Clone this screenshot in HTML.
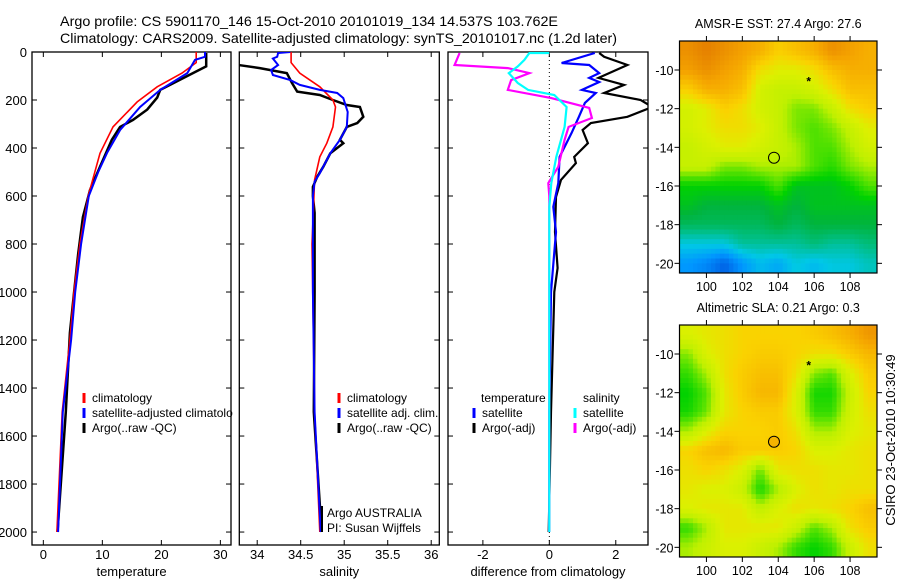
<!DOCTYPE html>
<html><head><meta charset="utf-8"><style>
html,body{margin:0;padding:0;background:#fff;width:900px;height:580px;overflow:hidden}
svg{display:block;font-family:"Liberation Sans",sans-serif}
</style></head><body>
<svg id="chart" width="900" height="580" viewBox="0 0 900 580" xmlns="http://www.w3.org/2000/svg">
<text x="60" y="26" font-size="14" textLength="498" lengthAdjust="spacingAndGlyphs">Argo profile: CS 5901170_146 15-Oct-2010 20101019_134 14.537S 103.762E</text>
<text x="60" y="43" font-size="14" textLength="557" lengthAdjust="spacingAndGlyphs">Climatology: CARS2009. Satellite-adjusted climatology: synTS_20101017.nc (1.2d later)</text>
<text transform="translate(895,440) rotate(-90)" text-anchor="middle" font-size="13">CSIRO 23-Oct-2010 10:30:49</text>
</svg>
<script>
// ---------- temperature panel data ----------
const tempClimDepth=[0,44,88,145,208,312,422,600,800,1000,1200,1500,2000];
const tempClim=[25.9,25.9,23.5,19.3,15.9,11.8,9.6,7.6,6.2,5.2,4.5,3.2,2.3];
const tempSatDepth=[0,20,33,88,158,229,325,420,500,600,800,1000,1200,1500,2000];
const tempSat=[27.4,27.4,25.7,24.4,19.8,16.4,13.0,10.8,9.3,7.7,6.4,5.4,4.7,3.3,2.5];
const tempArgoDepth=[4,60,100,158,190,240,283,312,366,478,575,688,840,1004,1170,1500,2000];
const tempArgo=[27.6,27.6,24.4,19.8,19.3,17.6,15.2,13.0,11.6,9.6,7.9,6.7,5.9,5.2,4.5,3.8,2.4];
const tempTicks=[0,10,20,30];
// ---------- salinity panel data ----------
const salClimDepth=[0,44,88,145,200,229,312,380,437,533,800,1500,2000];
const salClim=[34.39,34.39,34.49,34.72,34.87,34.90,34.87,34.80,34.72,34.66,34.63,34.66,34.72];
const salSatDepth=[0,4,20,27,54,75,96,117,137,158,171,192,250,312,366,422,505,540,600,1000,1500,2000];
const salSat=[34.38,34.24,34.23,34.18,34.24,34.16,34.18,34.38,34.49,34.72,34.92,34.99,35.04,35.03,34.95,34.84,34.72,34.66,34.64,34.64,34.66,34.73];
const salArgoDepth=[50,55,67,88,129,165,179,200,221,229,270,296,312,366,380,422,478,520,562,600,670,1000,1500,2000];
const salArgo=[33.2,33.80,34.03,34.34,34.40,34.46,34.72,34.87,35.03,35.18,35.22,35.15,35.03,34.95,34.99,34.84,34.76,34.69,34.64,34.64,34.66,34.66,34.65,34.74];
const salTicks=[34,34.5,35,35.5,36];
// ---------- difference panel data ----------
const dTempSatDepth=[4,46,54,88,108,125,158,171,212,270,337,437,546,645,750,1000,1500,2000];
const dTempSat=[1.37,0.37,1.2,1.5,1.2,1.5,0.98,1.4,1.07,0.89,0.67,0.31,0.27,0.12,0.2,0.05,0.0,0.0];
const dTempArgoDepth=[4,20,54,108,137,171,200,229,270,296,325,380,437,463,533,604,750,900,1000,1500,2000];
const dTempArgo=[1.5,1.65,2.35,1.48,2.25,1.65,2.75,3.1,2.35,1.25,1.0,1.16,0.75,0.8,0.35,0.2,0.17,0.25,0.15,0.05,-0.02];
const dSalSatDepth=[4,4,33,60,88,129,158,179,229,312,437,546,645,1000,2000];
const dSalSat=[0,-0.6,-0.75,-0.95,-1.22,-0.95,-0.64,0.15,0.52,0.46,0.21,0.06,0.0,0.0,0.0];
const dSalArgoDepth=[4,54,67,88,117,158,192,233,275,312,366,478,546,600,1000,2000];
const dSalArgo=[-2.7,-2.85,-1.25,-0.6,-1.15,-1.25,0.06,1.2,1.28,0.58,0.46,0.27,-0.03,0.0,0.0,0.0];
const diffTicks=[-2,0,2];
const depthTicks=[0,200,400,600,800,1000,1200,1400,1600,1800,2000];
// ---------- map data (1-degree cells, lat -9..-20, lon 99..109) ----------
const mapLons=[99,100,101,102,103,104,105,106,107,108,109];
const mapLats=[-9,-10,-11,-12,-13,-14,-15,-16,-17,-18,-19,-20];
const sstGrid=[
[28.3,28.4,28.3,28.2,28.1,27.9,28.0,28.1,28.3,28.2,28.1],
[28.2,28.3,28.2,28.1,27.8,27.7,27.7,27.8,28.0,28.1,28.1],
[27.9,28.1,28.1,28.0,27.6,27.5,27.5,27.6,27.8,28.0,28.0],
[27.6,27.7,27.9,27.8,27.6,27.5,27.3,27.3,27.5,27.8,27.9],
[27.6,27.7,27.8,27.8,27.7,27.5,27.3,27.2,27.3,27.5,27.7],
[27.5,27.6,27.7,27.7,27.6,27.5,27.4,27.2,27.2,27.4,27.6],
[27.5,27.5,27.3,27.3,27.4,27.4,27.4,27.2,27.1,27.3,27.4],
[27.0,27.0,27.0,27.0,27.0,27.2,26.9,26.9,26.9,27.0,27.2],
[26.9,26.8,26.8,26.8,26.8,26.9,26.8,26.9,26.9,26.9,26.9],
[26.7,26.7,26.7,26.7,26.7,26.8,26.7,26.8,26.8,26.8,26.8],
[26.3,26.3,26.3,26.5,26.5,26.5,26.5,26.6,26.5,26.5,26.6],
[26.0,25.9,25.7,26.0,26.2,26.1,26.3,26.2,26.3,26.3,26.4]];
const slaGrid=[
[0.25,0.28,0.3,0.33,0.33,0.33,0.33,0.35,0.38,0.42,0.48],
[0.12,0.25,0.3,0.33,0.35,0.35,0.33,0.3,0.3,0.35,0.4],
[0.05,0.15,0.3,0.35,0.38,0.38,0.3,0.12,0.08,0.25,0.35],
[0.0,0.08,0.28,0.35,0.4,0.4,0.25,0.02,0.02,0.2,0.33],
[0.02,0.1,0.28,0.33,0.35,0.35,0.25,0.05,0.05,0.22,0.3],
[0.15,0.25,0.33,0.33,0.33,0.35,0.3,0.15,0.15,0.25,0.28],
[0.33,0.38,0.4,0.35,0.35,0.35,0.33,0.25,0.25,0.28,0.3],
[0.3,0.33,0.3,0.25,0.1,0.28,0.3,0.3,0.28,0.28,0.3],
[0.28,0.25,0.25,0.2,0.02,0.15,0.25,0.3,0.28,0.3,0.3],
[0.25,0.28,0.28,0.28,0.18,0.25,0.3,0.28,0.3,0.33,0.38],
[0.05,0.15,0.28,0.28,0.28,0.28,0.2,0.08,0.15,0.3,0.35],
[0.15,0.2,0.25,0.25,0.2,0.15,0.05,0.0,0.05,0.2,0.3]];
const floatLon=103.762, floatLat=-14.537;
const markLon=105.7, markLat=-10.5;
const mapXTicks=[100,102,104,106,108];
const mapYTicks=[-10,-12,-14,-16,-18,-20];

const NS="http://www.w3.org/2000/svg";
const svg=document.getElementById('chart');
function mk(tag,attrs,parent){const e=document.createElementNS(NS,tag);for(const k in attrs)e.setAttribute(k,attrs[k]);(parent||svg).appendChild(e);return e;}
function txt(s,attrs,parent){const e=mk('text',attrs,parent);e.textContent=s;return e;}

const TOP=52,BOT=545,dmin=0,dmax=2054;
const yD=d=>TOP+(d-dmin)/(dmax-dmin)*(BOT-TOP);

function panel(id,x0,x1,vmin,vmax,ticks,fmt,xlabel,showY){
  const xs=v=>x0+(v-vmin)/(vmax-vmin)*(x1-x0);
  const g=mk('g',{});
  
  
  const cp=mk('clipPath',{id:'clip-'+id},g);
  mk('rect',{x:x0,y:TOP,width:x1-x0,height:BOT-TOP},cp);
  const frame=mk('rect',{x:x0,y:TOP,width:x1-x0,height:BOT-TOP,fill:'none',stroke:'#000','stroke-width':1.3},g);
  
  
  ticks.forEach(t=>{
    const x=xs(t);
    mk('line',{x1:x,x2:x,y1:BOT,y2:BOT-5,stroke:'#000'},g);
    mk('line',{x1:x,x2:x,y1:TOP,y2:TOP+5,stroke:'#000'},g);
    const l=txt(fmt(t),{x:x,y:559,'font-size':13,'text-anchor':'middle'},g);
    
    
  });
  depthTicks.forEach(d=>{
    const y=yD(d);
    mk('line',{x1:x0,x2:x0+5,y1:y,y2:y,stroke:'#000'},g);
    mk('line',{x1:x1,x2:x1-5,y1:y,y2:y,stroke:'#000'},g);
    if(showY){const l=txt(String(d),{x:27,y:y+5,'font-size':13,'text-anchor':'end'},g);
      
      }
  });
  const xl=txt(xlabel,{x:(x0+x1)/2,y:576,'font-size':13,'text-anchor':'middle'},g);
  
  
  return {g,xs,clip:'url(#clip-'+id+')'};
}
function series(p,depths,vals,color,w,name){
  const pts=depths.map((d,i)=>p.xs(vals[i]).toFixed(1)+','+yD(d).toFixed(1)).join(' ');
  const e=mk('polyline',{points:pts,fill:'none',stroke:color,'stroke-width':w,'stroke-linejoin':'miter','clip-path':p.clip},p.g);
  
  
}
function legend(p,x,y,color,label,name,clip){
  mk('line',{x1:x,x2:x,y1:y-9,y2:y+1,stroke:color,'stroke-width':3},p.g);
  const a={x:x+8,y:y,'font-size':12};
  if(clip)a['clip-path']=p.clip;
  const t=txt(label,a,p.g);
  
  
}

// temperature
const pT=panel('temperature',32,231,-1.92,31.8,tempTicks,String,'temperature',true);
series(pT,tempArgoDepth,tempArgo,'#000',2.5,'temp-argo-line');
series(pT,tempClimDepth,tempClim,'#f00',1.6,'temp-climatology-line');
series(pT,tempSatDepth,tempSat,'#00f',2,'temp-satellite-line');
legend(pT,84,402,'#f00','climatology','legend-climatology',false);
legend(pT,84,417,'#00f','satellite-adjusted climatolo','legend-satellite-adjusted',false);
legend(pT,84,432,'#000','Argo(..raw -QC)','legend-argo',false);

// salinity
const pS=panel('salinity',239.3,439.3,33.7942,36.093,salTicks,String,'salinity',false);
series(pS,salArgoDepth,salArgo,'#000',2.5,'sal-argo-line');
series(pS,salClimDepth,salClim,'#f00',1.6,'sal-climatology-line');
series(pS,salSatDepth,salSat,'#00f',2,'sal-satellite-line');
legend(pS,339,402,'#f00','climatology','legend-sal-climatology',false);
legend(pS,339,417,'#00f','satellite adj. clim.','legend-sal-satellite',false);
legend(pS,339,432,'#000','Argo(..raw -QC)','legend-sal-argo',false);
mk('line',{x1:322,x2:322,y1:506,y2:532,stroke:'#000','stroke-width':2},pS.g);
const n1=txt('Argo AUSTRALIA',{x:327,y:517,'font-size':12},pS.g);


const n2=txt('PI: Susan Wijffels',{x:327,y:532,'font-size':12},pS.g);



// difference
const pD=panel('difference',448,648,-3.05,2.97,diffTicks,String,'difference from climatology',false);
const zl=mk('line',{x1:pD.xs(0),x2:pD.xs(0),y1:TOP,y2:BOT,stroke:'#000','stroke-width':1,'stroke-dasharray':'1,3'},pD.g);


series(pD,dTempArgoDepth,dTempArgo,'#000',2.2,'diff-temp-argo-line');
series(pD,dTempSatDepth,dTempSat,'#00f',2.2,'diff-temp-satellite-line');
series(pD,dSalArgoDepth,dSalArgo,'#f0f',2.2,'diff-sal-argo-line');
series(pD,dSalSatDepth,dSalSat,'#0ff',2.2,'diff-sal-satellite-line');
const h1=txt('temperature',{x:481,y:402,'font-size':12},pD.g);


const h2=txt('salinity',{x:583,y:402,'font-size':12},pD.g);


legend(pD,474,417,'#00f','satellite','legend-diff-temp-satellite',false);
legend(pD,474,432,'#000','Argo(-adj)','legend-diff-temp-argo',false);
legend(pD,575,417,'#0ff','satellite','legend-diff-sal-satellite',false);
legend(pD,575,432,'#f0f','Argo(-adj)','legend-diff-sal-argo',false);

// colormap
const cstops=[[0,[0,100,230]],[0.1,[0,150,255]],[0.2,[0,200,230]],[0.3,[0,190,130]],[0.38,[0,180,60]],[0.45,[0,210,0]],[0.52,[80,225,0]],[0.6,[190,240,0]],[0.68,[220,240,0]],[0.75,[250,210,0]],[0.85,[245,165,0]],[0.95,[225,120,0]],[1,[200,90,0]]];
function cmap(t){t=Math.max(0,Math.min(1,t));for(let i=1;i<cstops.length;i++){if(t<=cstops[i][0]){const [a,ca]=cstops[i-1],[b,cb]=cstops[i];const f=(t-a)/(b-a);return 'rgb('+ca.map((c,k)=>Math.round(c+(cb[k]-c)*f)).join(',')+')';}}return 'rgb(200,90,0)';}

// sample the gridded field at fractional (col,row) for smooth rendering
function sample(grid,c,r){
  const R=grid.length-1,C=grid[0].length-1;
  c=Math.max(0,Math.min(C,c));r=Math.max(0,Math.min(R,r));
  const c0=Math.min(C-1,Math.floor(c)),r0=Math.min(R-1,Math.floor(r));
  const fc=c-c0,fr=r-r0;
  return grid[r0][c0]*(1-fc)*(1-fr)+grid[r0][c0+1]*fc*(1-fr)+grid[r0+1][c0]*(1-fc)*fr+grid[r0+1][c0+1]*fc*fr;
}

function map(id,y0,title,grid,norm,filledCircle){
  const x0=679.5,x1=877,y1=y0+232;
  const lonMin=98.5,lonMax=109.5,latMax=-8.5,latMin=-20.5;
  const xs=lo=>x0+(lo-lonMin)/(lonMax-lonMin)*(x1-x0);
  const ys=la=>y0+(latMax-la)/(latMax-latMin)*(y1-y0);
  const g=mk('g',{});
  
  
  const SUB=4;
  grid.forEach((row,r)=>row.forEach((v,c)=>{
    const lo=mapLons[c],la=mapLats[r];
    const cg=mk('g',{},g);
    
    
    for(let i=0;i<SUB;i++)for(let j=0;j<SUB;j++){
      const fc=c-0.5+(i+0.5)/SUB, fr=r-0.5+(j+0.5)/SUB;
      const val=sample(grid,fc,fr);
      const la0=la+0.5-j/SUB, lo0=lo-0.5+i/SUB;
      mk('rect',{x:xs(lo0).toFixed(2),y:ys(la0).toFixed(2),width:(xs(lo0+1/SUB)-xs(lo0)+0.5).toFixed(2),height:(ys(la0-1/SUB)-ys(la0)+0.5).toFixed(2),fill:cmap(norm(val))},cg);
    }
  }));
  mk('rect',{x:x0,y:y0,width:x1-x0,height:y1-y0,fill:'none',stroke:'#000','stroke-width':1.2},g);
  mapXTicks.forEach(t=>{const x=xs(t);
    mk('line',{x1:x,x2:x,y1:y1,y2:y1+5,stroke:'#000'},g);
    mk('line',{x1:x,x2:x,y1:y0,y2:y0-5,stroke:'#000'},g);
    const l=txt(String(t),{x:x,y:y1+18,'font-size':12.5,'text-anchor':'middle'},g);
    
    });
  mapYTicks.forEach(t=>{const y=ys(t);
    mk('line',{x1:x0,x2:x0-5,y1:y,y2:y,stroke:'#000'},g);
    mk('line',{x1:x1,x2:x1+5,y1:y,y2:y,stroke:'#000'},g);
    const l=txt(String(t),{x:x0-6,y:y+5,'font-size':12.5,'text-anchor':'end'},g);
    
    });
  const tt=txt(title,{x:(x0+x1)/2,y:y0-13,'font-size':12.5,'text-anchor':'middle'},g);
  
  
  const ci=mk('circle',{cx:xs(floatLon),cy:ys(floatLat),r:5.5,fill:filledCircle||'none',stroke:'#000','stroke-width':1},g);
  
  
  const mkr=txt('*',{x:xs(markLon),y:ys(markLat)+6,'font-size':12,'font-weight':'bold','text-anchor':'middle'},g);
  
  
}
map('sst',41,'AMSR-E SST: 27.4 Argo: 27.6',sstGrid,v=>(v-25.7)/2.9,null);
map('sla',325,'Altimetric SLA: 0.21 Argo: 0.3',slaGrid,v=>0.45+v*0.9,'rgb(245,180,0)');
</script>
</body></html>
